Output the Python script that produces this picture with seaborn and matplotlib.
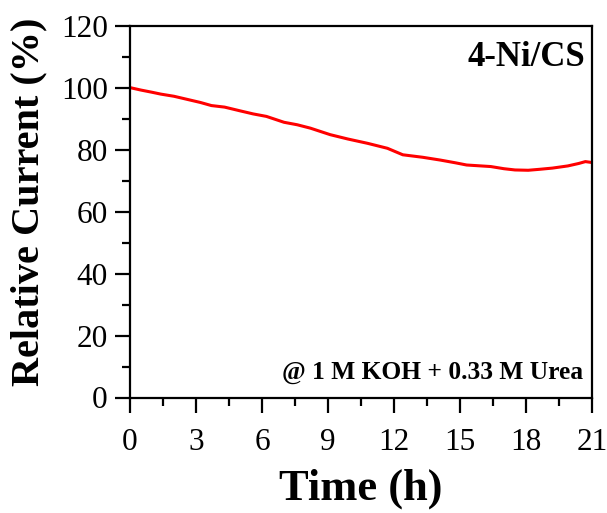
import matplotlib
matplotlib.use("Agg")
import matplotlib.pyplot as plt
from matplotlib.ticker import MultipleLocator
import seaborn as sns
import pandas as pd

time_h = [0.0, 0.5, 1.0, 1.4, 2.0, 2.6, 3.2, 3.7, 4.3, 5.0, 5.6, 6.2, 7.0,
          7.6, 8.2, 9.1, 9.9, 10.8, 11.7, 12.4, 13.3, 14.1, 14.8, 15.3,
          16.4, 17.0, 17.5, 18.1, 18.6, 19.2, 19.9, 20.4, 20.7, 21.0]
rel_current = [100.1, 99.3, 98.6, 98.0, 97.3, 96.3, 95.3, 94.3, 93.8, 92.6,
               91.6, 90.8, 88.9, 88.1, 87.0, 84.9, 83.5, 82.1, 80.5, 78.4,
               77.6, 76.7, 75.8, 75.1, 74.6, 73.9, 73.5, 73.4, 73.7, 74.1,
               74.8, 75.6, 76.2, 75.9]
x_ticks = [0, 3, 6, 9, 12, 15, 18, 21]
y_ticks = [0, 20, 40, 60, 80, 100, 120]

df = pd.DataFrame({"Time (h)": time_h, "Relative Current (%)": rel_current})

sns.set_style("ticks")
plt.rcParams["font.family"] = ["Liberation Serif", "DejaVu Serif"]
plt.rcParams["text.color"] = "black"
plt.rcParams["axes.labelcolor"] = "black"
plt.rcParams["xtick.color"] = "black"
plt.rcParams["ytick.color"] = "black"

fig = plt.figure(figsize=(6.07, 5.13), dpi=100)
ax = fig.add_axes([130 / 607, 1 - 397.5 / 513, (592 - 130) / 607, (397.5 - 26) / 513])

sns.lineplot(data=df, x="Time (h)", y="Relative Current (%)", ax=ax,
             color="#ff0000", linewidth=2.2)

ax.set_xlim(0, 21)
ax.set_ylim(0, 120)
ax.set_xticks(x_ticks)
ax.set_yticks(y_ticks)
ax.xaxis.set_minor_locator(MultipleLocator(1.5))
ax.yaxis.set_minor_locator(MultipleLocator(10))
ax.tick_params(which="major", direction="out", length=11, width=1.6,
               labelsize=22.5, top=False, right=False, colors="black")
ax.tick_params(axis="x", which="major", pad=11)
ax.tick_params(axis="y", which="major", pad=5)
ax.tick_params(which="minor", direction="out", length=6, width=1.6,
               top=False, right=False, colors="black")
for sp in ax.spines.values():
    sp.set_visible(True)
    sp.set_linewidth(1.6)
    sp.set_color("black")

ax.set_xlabel("Time (h)", fontsize=32, fontweight="bold")
ax.set_ylabel("Relative Current (%)", fontsize=29, fontweight="bold")
ax.xaxis.set_label_coords(0.5, -0.19)
ax.yaxis.set_label_coords(-0.178, 0.527)

ax.text(0.985, 0.96, "4-Ni/CS", transform=ax.transAxes, ha="right", va="top",
        fontsize=25, fontweight="bold")
ax.text(0.98, 0.035, "@ 1 M KOH + 0.33 M Urea", transform=ax.transAxes,
        ha="right", va="bottom", fontsize=18.4, fontweight="bold")

fig.savefig("out.png", dpi=100)
